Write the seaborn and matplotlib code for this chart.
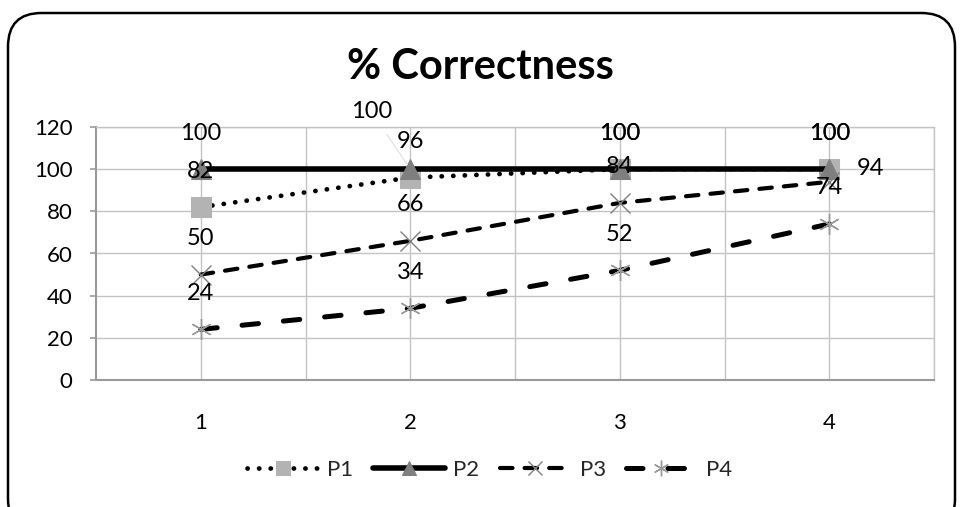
import matplotlib
matplotlib.use("Agg")
import matplotlib.pyplot as plt
from matplotlib.patches import FancyBboxPatch
import seaborn as sns
import pandas as pd

# Data
trials = [1, 2, 3, 4]
p1 = [82, 96, 100, 100]
p2 = [100, 100, 100, 100]
p3 = [50, 66, 84, 94]
p4 = [24, 34, 52, 74]
series_names = ["P1", "P2", "P3", "P4"]
y_ticks = [0, 20, 40, 60, 80, 100, 120]

sns.set_theme(style="white")
plt.rcParams["font.family"] = ["Lato", "DejaVu Sans"]

fig = plt.figure(figsize=(9.6, 5.07), dpi=100)
ax = fig.add_axes([0.1, 0.2505, 0.873, 0.499])

grid_c = "#c3c3c3"
axis_c = "#9a9a9a"

styles = {
    "P1": dict(linestyle=(0, (0.05, 2.4)), lw=3.4, marker="s", markersize=14,
               markerfacecolor="#b3b3b3", markeredgecolor="#b3b3b3",
               dash_capstyle="round"),
    "P2": dict(linestyle="-", lw=4.0, marker="^", markersize=14,
               markerfacecolor="#7f7f7f", markeredgecolor="#7f7f7f"),
    "P3": dict(linestyle=(0, (3.0, 2.9)), lw=3.0, marker="x", markersize=14,
               markeredgecolor="#7f7f7f", markeredgewidth=1.0,
               dash_capstyle="round"),
    "P4": dict(linestyle=(0, (3.3, 5.0)), lw=3.6, marker=(6, 2, 0), markersize=15,
               markeredgecolor="#9a9a9a", markeredgewidth=1.0,
               dash_capstyle="round"),
}

values = {"P1": p1, "P2": p2, "P3": p3, "P4": p4}
for name in series_names:
    df = pd.DataFrame({"trial": trials, "value": values[name]})
    sns.lineplot(data=df, x="trial", y="value", ax=ax, color="black",
                 label=name, zorder=3, **styles[name])

if ax.get_legend() is not None:
    ax.get_legend().remove()

# Axes formatting
ax.set_xlim(0.5, 4.5)
ax.set_ylim(0, 120)
ax.set_xticks(trials)
ax.set_xticklabels([str(t) for t in trials])
ax.set_xticks([1.5, 2.5, 3.5, 4.5], minor=True)
ax.set_yticks(y_ticks)
ax.set_xlabel("")
ax.set_ylabel("")
ax.grid(True, which="both", color=grid_c, lw=1.0, zorder=0)
ax.set_axisbelow(True)
for side in ["top", "right"]:
    ax.spines[side].set_color(grid_c)
    ax.spines[side].set_linewidth(1.0)
for side in ["left", "bottom"]:
    ax.spines[side].set_color(axis_c)
    ax.spines[side].set_linewidth(1.5)
ax.tick_params(axis="x", which="both", length=0, pad=24, labelsize=16, labelcolor="black")
ax.tick_params(axis="y", length=4, width=1.2, color=axis_c, pad=13, labelsize=16,
               labelcolor="black", left=True)

# Data labels
label_fs = 17
default_offset = (0, 36)
special = {
    ("P2", 2): (-39, 58),
    ("P3", 4): (41, 13),
}
for name in series_names:
    for x, v in zip(trials, values[name]):
        dx, dy = special.get((name, x), default_offset)
        kw = {}
        if (name, x) == ("P2", 2):
            kw["arrowprops"] = dict(arrowstyle="-", color="#e0e0e0", lw=0.8,
                                    shrinkA=8, shrinkB=4)
        ax.annotate(str(v), xy=(x, v), xytext=(dx, dy), textcoords="offset pixels",
                    ha="center", va="center", fontsize=label_fs, color="black",
                    zorder=5, **kw)

# Title
fig.text(0.5, 1 - 67 / 507, "% Correctness", ha="center", va="center",
         fontsize=30, fontweight="bold", color="black")

# Legend
handles, labels = ax.get_legend_handles_labels()
fig.legend(handles, labels, loc="center", bbox_to_anchor=(0.51, 1 - 470 / 507),
           ncol=4, frameon=False, fontsize=16, handlelength=3.2, markerscale=0.75,
           handletextpad=0.4, columnspacing=0.9)

# Rounded chart border
border = FancyBboxPatch((8 / 960, -0.05), 947 / 960, 1 - 13 / 507 + 0.05,
                        boxstyle="round,pad=0,rounding_size=0.035",
                        transform=fig.transFigure, fill=False,
                        edgecolor="black", lw=1.8, clip_on=False,
                        mutation_aspect=960 / 507)
fig.patches.append(border)

fig.savefig("out.png", dpi=100)
